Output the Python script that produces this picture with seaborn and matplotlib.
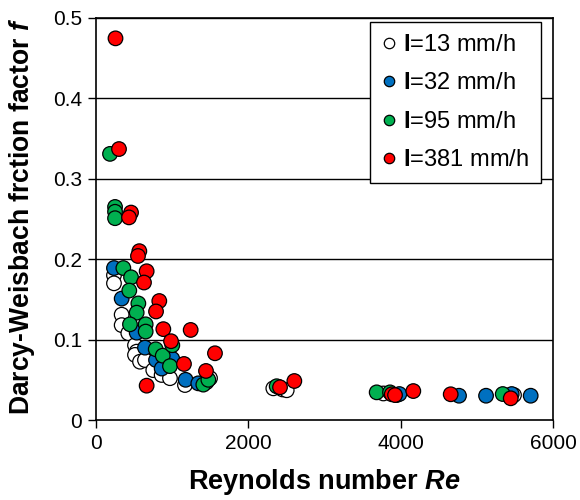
import matplotlib
matplotlib.use("Agg")
import matplotlib.pyplot as plt
import seaborn as sns
import pandas as pd
from matplotlib.lines import Line2D

# ---- data ----
series_labels = ["I=13 mm/h", "I=32 mm/h", "I=95 mm/h", "I=381 mm/h"]

re_13 = [236, 236, 337, 337, 424, 512, 534, 512, 578, 643, 752, 862, 971, 1168, 1450, 1497,
         2328, 2450, 2504, 3773, 3948, 5488]
f_13 = [0.180, 0.170, 0.131, 0.118, 0.108, 0.093, 0.085, 0.081, 0.0725, 0.0746, 0.062, 0.056,
        0.052, 0.0435, 0.047, 0.052, 0.0394, 0.038, 0.037, 0.033, 0.031, 0.031]

re_32 = [236, 337, 534, 643, 788, 862, 1002, 1177, 1343, 2400, 3983, 4766, 5121, 5458, 5707]
f_32 = [0.189, 0.151, 0.1086, 0.090, 0.0746, 0.064, 0.076, 0.050, 0.0456, 0.041, 0.0323,
        0.0302, 0.0302, 0.0323, 0.0302]

re_95 = [184, 250, 250, 250, 359, 460, 437, 556, 534, 446, 652, 652, 784, 876, 971, 1002,
         1409, 1475, 2372, 3685, 3860, 5340]
f_95 = [0.331, 0.265, 0.259, 0.251, 0.189, 0.1775, 0.161, 0.145, 0.1335, 0.119, 0.119, 0.110,
        0.088, 0.080, 0.067, 0.093, 0.044, 0.050, 0.042, 0.0344, 0.0344, 0.0323]

re_381 = [256, 302, 460, 433, 569, 551, 665, 630, 831, 788, 884, 1243, 985, 1155, 1562, 665,
          1444, 2416, 2604, 3883, 3926, 4166, 4657, 5445]
f_381 = [0.4747, 0.337, 0.258, 0.252, 0.210, 0.204, 0.185, 0.171, 0.148, 0.135, 0.113, 0.112,
         0.098, 0.0697, 0.083, 0.0427, 0.061, 0.0407, 0.0485, 0.032, 0.031, 0.036, 0.032, 0.027]

x_ticks = [0, 2000, 4000, 6000]
y_ticks = [0, 0.1, 0.2, 0.3, 0.4, 0.5]
y_tick_labels = ["0", "0.1", "0.2", "0.3", "0.4", "0.5"]

colors = ["#FFFFFF", "#0070C0", "#00B050", "#FF0000"]

frames = []
for lab, xs, ys in zip(series_labels, [re_13, re_32, re_95, re_381],
                       [f_13, f_32, f_95, f_381]):
    frames.append(pd.DataFrame({"Re": xs, "f": ys, "I": lab}))
df = pd.concat(frames, ignore_index=True)

sns.set_style("white")
plt.rcParams["font.family"] = ["Liberation Sans", "DejaVu Sans"]
plt.rcParams["text.color"] = "black"
plt.rcParams["axes.labelcolor"] = "black"
plt.rcParams["xtick.color"] = "black"
plt.rcParams["ytick.color"] = "black"
plt.rcParams["mathtext.fontset"] = "custom"
plt.rcParams["mathtext.rm"] = "Liberation Sans"
plt.rcParams["mathtext.bf"] = "Liberation Sans:bold"
plt.rcParams["mathtext.it"] = "Liberation Sans:bold:italic"

fig = plt.figure(figsize=(5.8, 5.0), dpi=100)
ax = fig.add_axes([96 / 580, 80 / 500, (553 - 96) / 580, (420 - 18) / 500])

for y in y_ticks[1:]:
    ax.axhline(y, color="black", lw=1.0, zorder=0)

sns.scatterplot(data=df, x="Re", y="f", hue="I", hue_order=series_labels,
                palette=colors, s=110, edgecolor="black", linewidth=0.9,
                ax=ax, zorder=3, legend=False)

ax.set_xlim(0, 6000)
ax.set_ylim(0, 0.5)
ax.set_xticks(x_ticks)
ax.set_xticklabels([str(t) for t in x_ticks])
ax.set_yticks(y_ticks)
ax.set_yticklabels(y_tick_labels)
ax.tick_params(axis="both", direction="out", length=6, width=1.0, colors="black",
               labelcolor="black", labelsize=15, pad=4, bottom=True, left=True)
for sp in ax.spines.values():
    sp.set_visible(True)
    sp.set_color("black")
    sp.set_linewidth(1.2)

ax.set_xlabel(r"Reynolds number $\mathit{Re}$", fontsize=19.5, fontweight="bold",
              labelpad=10, color="black")
ax.set_ylabel(r"Darcy-Weisbach frction factor $\mathit{f}$", fontsize=19.1,
              fontweight="bold", color="black")
ax.yaxis.set_label_coords(-(96 - 37) / 457, (420 - 216.5) / 402)

handles = [Line2D([], [], marker="o", ls="", markersize=7.5, markerfacecolor=c,
                  markeredgecolor="black", markeredgewidth=0.9) for c in colors]
labels = [r"$\mathbf{I}$" + lab[1:] for lab in series_labels]
leg = ax.legend(handles, labels, loc="upper right",
                bbox_to_anchor=((541 - 96) / 457, (420 - 22) / 402),
                fontsize=17, frameon=True, fancybox=False, edgecolor="black",
                framealpha=1, handlelength=0.6, handletextpad=0.3, labelspacing=0.7,
                borderpad=0.5, borderaxespad=0.0)
leg.get_frame().set_linewidth(1.0)
for t in leg.get_texts():
    t.set_color("black")

fig.savefig("out.png", dpi=100)
